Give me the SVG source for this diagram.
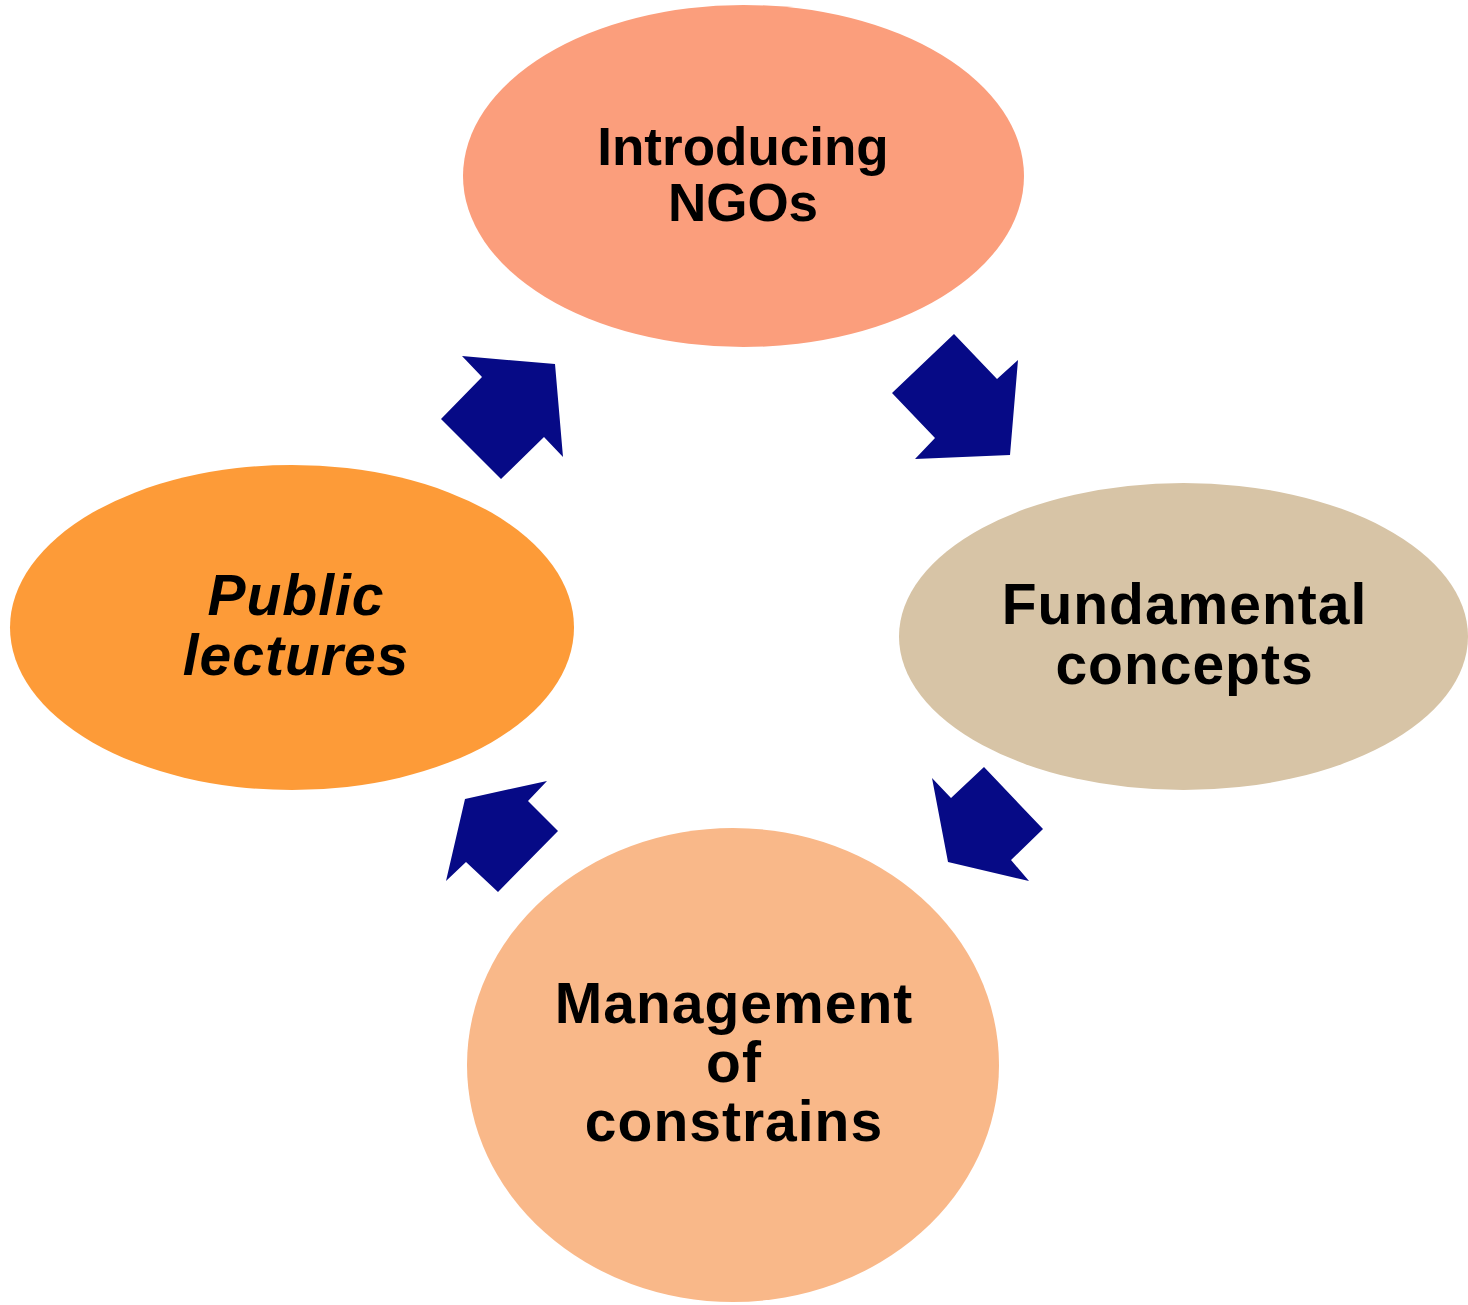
<svg xmlns="http://www.w3.org/2000/svg" width="1468" height="1305" viewBox="0 0 1468 1305">
<style>
.lbl{font-family:"Liberation Sans",Arial,sans-serif;font-weight:bold;font-size:53px;fill:#000;text-anchor:middle}
.big{font-size:57px;letter-spacing:1px}
.arr{fill:#060A86}
</style>
<rect width="1468" height="1305" fill="#fff"/>
<g id="node-intro">
<ellipse cx="743.5" cy="176" rx="280.5" ry="171" fill="#FB9E7C"/>
<text class="lbl" x="743" y="165">Introducing</text>
<text class="lbl" x="743" y="221">NGOs</text>
</g>
<g id="node-fundamental">
<ellipse cx="1183.5" cy="636.5" rx="284.5" ry="153.5" fill="#D7C4A6"/>
<text class="lbl big" x="1184.5" y="624">Fundamental</text>
<text class="lbl big" x="1184.5" y="684">concepts</text>
</g>
<g id="node-management">
<ellipse cx="733" cy="1065" rx="266" ry="237" fill="#F9B889"/>
<text class="lbl big" x="734" y="1023">Management</text>
<text class="lbl big" x="734" y="1082">of</text>
<text class="lbl big" x="734" y="1141">constrains</text>
</g>
<g id="node-public">
<ellipse cx="292" cy="627.5" rx="282" ry="162.5" fill="#FD9B38"/>
<text class="lbl big" x="296" y="615" font-style="italic">Public</text>
<text class="lbl big" x="296" y="675" font-style="italic">lectures</text>
</g>
<g id="connectors">
<polygon class="arr" points="954,334 997,379 1018,360 1010,455 915,459 935,438 892,393"/>
<polygon class="arr" points="932,778 951,798 984,767 1043,829 1011,860 1029,881 948,862"/>
<polygon class="arr" points="547,781 528,801 558,831 498,892 466,862 446,881 465,799"/>
<polygon class="arr" points="462,356 555,364 563,457 544,437 501,479 441,419 482,377"/>
</g>
</svg>
